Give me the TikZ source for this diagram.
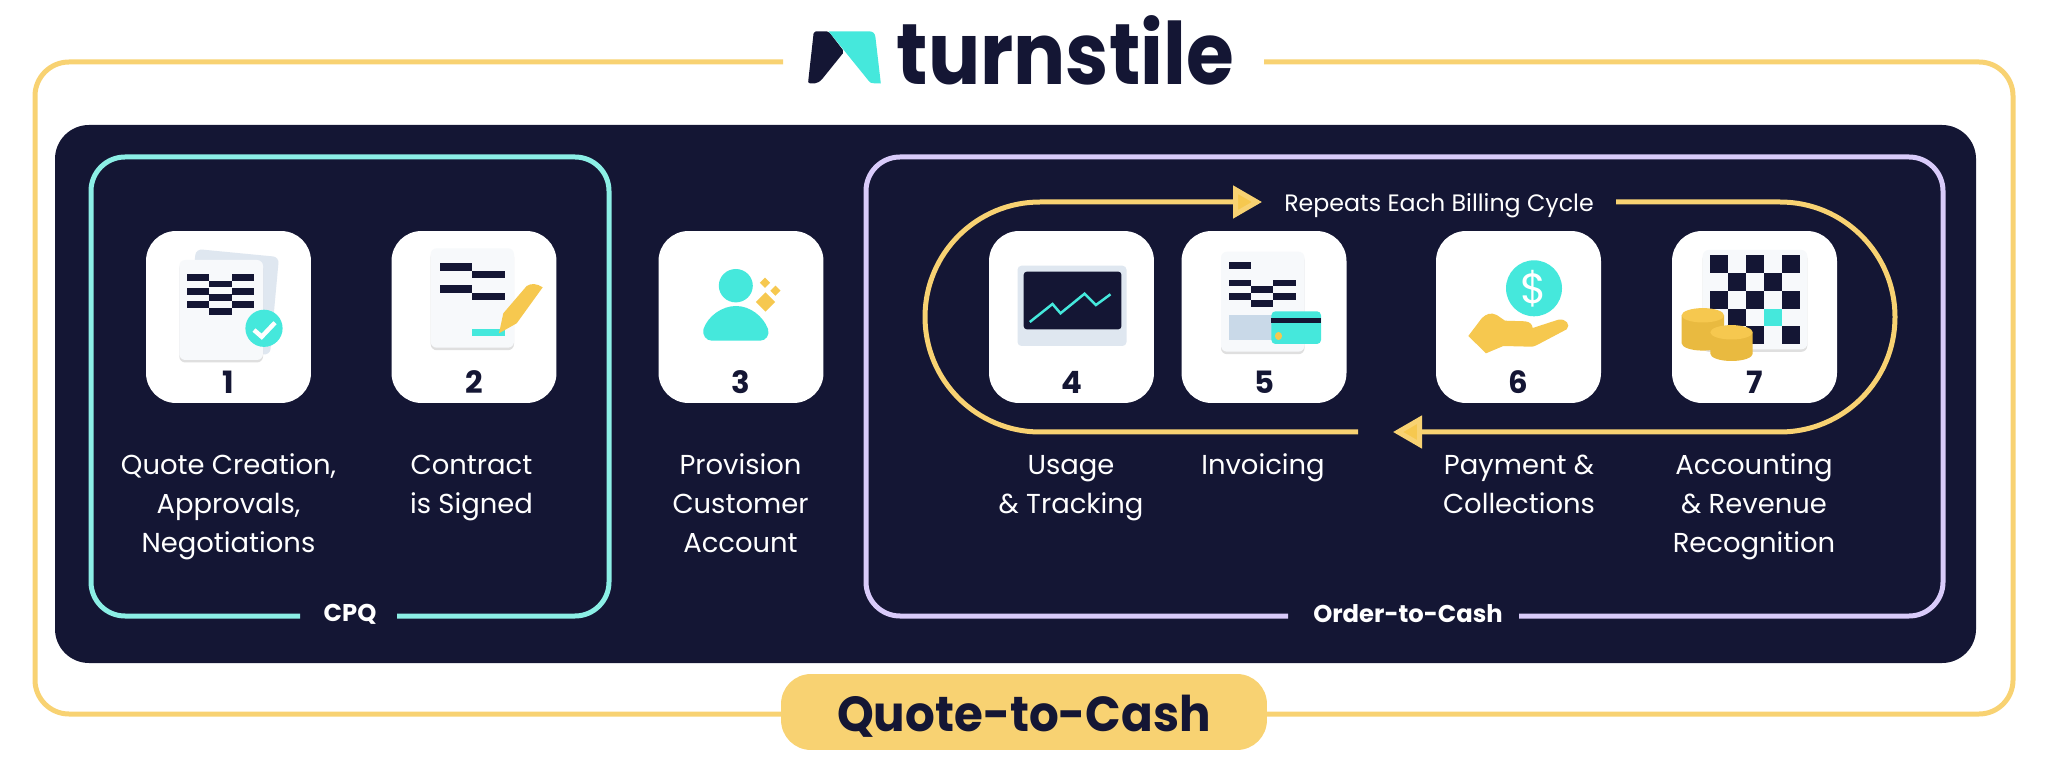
\documentclass[tikz,border=0pt]{standalone}
\usepackage{graphicx}
\usepackage{fontspec}
\setmainfont{Poppins}
\usetikzlibrary{arrows.meta,shadows}
\definecolor{navy}{HTML}{141634}
\definecolor{sand}{HTML}{F8D272}
\definecolor{gold}{HTML}{F6C84F}
\definecolor{golddark}{HTML}{E9BA40}
\definecolor{aqua}{HTML}{45E8DC}
\definecolor{aqualine}{HTML}{8CEFE6}
\definecolor{lilac}{HTML}{D9CBFA}
\definecolor{sheet}{HTML}{F7F9FB}
\definecolor{backsheet}{HTML}{DFE7F0}
\definecolor{paleblue}{HTML}{C9D9E8}
\newcommand{\toprow}{\rule{0pt}{0.5cm}}
\tikzset{
  tile/.style={fill=white, rounded corners=0.6cm, minimum width=3.3cm, minimum height=3.44cm, inner sep=0pt},
  tilenum/.style={text=navy, font=\fontsize{17.5}{20}\selectfont\bfseries, inner sep=0pt},
  steplabel/.style={text=white, font=\fontsize{15.6}{22.2}\selectfont, align=center, anchor=north, inner sep=0pt},
  framelabel/.style={text=white, font=\fontsize{13.8}{15}\selectfont\bfseries, inner sep=0pt},
  frameline/.style={line width=0.1cm, rounded corners=0.68cm},
  loopline/.style={draw=sand, line width=0.1cm},
  paper/.style={fill=sheet, rounded corners=0.12cm, drop shadow={opacity=0.25, shadow xshift=0cm, shadow yshift=-0.05cm}},
  looptip/.style={-{Triangle[length=0.58cm, width=0.64cm, fill=gold]}}
}
\begin{document}
\begin{tikzpicture}[x=0.02cm, y=-0.02cm]
  \useasboundingbox (0,0) rectangle (2048,766);

  % Outer frame and title
  \coordinate (titleL) at (783,62);
  \coordinate (titleR) at (1264,62);
  \draw[sand, frameline] (titleR) -- (2013,62) -- (2013,714) -- (35,714) -- (35,62) -- (titleL);
  \fill[navy, rounded corners=0.04cm] (813.8,31.3) -- (828.6,31.3) -- (844.2,51.7) -- (821.4,80) -- (817,83.3) -- (808,83.3) -- cycle;
  \fill[aqua] (828.6,31.3) -- (869,31.3) .. controls (873,31.3) and (875,33.5) .. (875.4,37) -- (880.8,83.3) -- (874,83.3) .. controls (871,83.3) and (870,82.5) .. (868.8,81) -- cycle;
  \node[text=navy, font=\fontsize{49}{55}\selectfont\bfseries, xscale=0.9, inner sep=0pt] (logoText) at (1065.5,50) {turnstile};

  % Dark panel
  \fill[navy, rounded corners=0.68cm] (55,125) rectangle (1976,663);

  % CPQ frame
  \coordinate (cpqL) at (300,616);
  \coordinate (cpqR) at (397,616);
  \draw[aqualine, frameline] (cpqL) -- (91,616) -- (91,157) -- (609,157) -- (609,616) -- (cpqR);
  \node[framelabel] (cpqLabel) at (350,614) {CPQ};

  % Order-to-Cash frame
  \coordinate (otcL) at (1288,616);
  \coordinate (otcR) at (1519,616);
  \draw[lilac, frameline] (otcL) -- (866,616) -- (866,157) -- (1943,157) -- (1943,616) -- (otcR);
  \node[framelabel] (otcLabel) at (1408,614) {Order-to-Cash};

  % Billing loop
  \coordinate (topTip) at (1262,202);
  \coordinate (topStart) at (1616,202);
  \coordinate (lowTip) at (1393,432);
  \coordinate (lowStart) at (1358,432);
  \draw[loopline, looptip] (lowStart) -- (1040,432) arc[start angle=90, end angle=270, radius=115] -- (topTip);
  \draw[loopline, looptip] (topStart) -- (1780,202) arc[start angle=-90, end angle=90, radius=115] -- (lowTip);
  \node[text=white, font=\fontsize{13.5}{16}\selectfont, inner sep=0pt] (loopLabel) at (1439,206) {Repeats Each Billing Cycle};

  % Tiles with their numbers
  \foreach \tname/\tx/\tnum in {tileA/228.5/1, tileB/474/2, tileC/741/3, tileD/1071.5/4, tileE/1264/5, tileF/1518.5/6, tileG/1754.5/7} {
    \node[tile] (\tname) at (\tx,317) {};
    \node[tilenum] (\tname num) at (\tx,382) {\tnum};
  }

  % Step labels
  \node[steplabel] (labelA) at (228.5,449) {\toprow Quote Creation,\\Approvals,\\Negotiations};
  \node[steplabel] (labelB) at (471.5,449) {\toprow Contract\\is Signed};
  \node[steplabel] (labelC) at (740.5,449) {\toprow Provision\\Customer\\Account};
  \node[steplabel] (labelD) at (1071,449) {\toprow Usage\\\& Tracking};
  \node[steplabel] (labelE) at (1263,449) {\toprow Invoicing};
  \node[steplabel] (labelF) at (1519,449) {\toprow Payment \&\\Collections};
  \node[steplabel] (labelG) at (1754,449) {\toprow Accounting\\\& Revenue\\Recognition};

  % Icon 1: quote sheets
  \fill[backsheet, rounded corners=0.12cm] (196,249) -- (279,257) -- (270,355) -- (185,347) -- cycle;
  \fill[paper] (179.3,260) rectangle (263,360);
  \foreach \bx in {187,231.7}
    \foreach \by in {273.7,287.7,301.3}
      \fill[navy] (\bx,\by) rectangle +(22.3,7);
  \foreach \by in {280.7,294.3,308}
    \fill[navy] (209.3,\by) rectangle +(22.4,6.8);
  \fill[aqua] (264,328.3) circle (18.6);
  \draw[white, line width=0.09cm] (254,330) -- (261.7,336.7) -- (275,322.7);

  % Icon 2: signed contract
  \fill[paper] (430.7,248.3) rectangle (514,347.7);
  \foreach \bx/\by in {440/263.3, 472.3/271, 440/285.3, 472.3/293}
    \fill[navy] (\bx,\by) rectangle +(32.4,7.5);
  \fill[aqua] (472.3,329) rectangle (504.7,336);
  \fill[gold] (499,333.3) -- (503.3,313.3) -- (526.7,286) .. controls (531,283) and (537,283.5) .. (542.7,287.3) -- (516.7,323.3) -- cycle;

  % Icon 3: customer account
  \fill[aqua] (735.8,285.7) ellipse (17 and 16.7);
  \fill[aqua] (712,340.7) -- (760,340.7) .. controls (766,340.7) and (770,335) .. (768,329) .. controls (763,316) and (750,306) .. (736,306) .. controls (722,306) and (708,316) .. (703.5,329) .. controls (702,335) and (706,340.7) .. (712,340.7) -- cycle;
  \foreach \dx/\dy/\drad in {765.5/302/9.6, 765/282.7/5.1, 775.4/290.7/5.1}
    \fill[gold] (\dx-\drad,\dy) -- (\dx,\dy-\drad) -- (\dx+\drad,\dy) -- (\dx,\dy+\drad) -- cycle;

  % Icon 4: usage screen
  \fill[backsheet, rounded corners=0.08cm] (1017.5,265.7) rectangle (1126.5,346);
  \fill[navy, rounded corners=0.06cm] (1023.7,271.7) rectangle (1121.4,329.3);
  \draw[aqua, line width=0.05cm] (1029.8,322) -- (1052.5,304) -- (1060.5,313.3) -- (1084.6,293.7) -- (1095.9,305) -- (1110.5,294.3);

  % Icon 5: invoice and card
  \fill[paper] (1221,251.7) rectangle (1304.5,351.7);
  \fill[navy] (1228.5,262.3) rectangle +(22.6,6.7);
  \foreach \bx in {1228.5,1273.3}
    \foreach \by in {279.7,293.3}
      \fill[navy] (\bx,\by) rectangle +(22.6,6.7);
  \foreach \by in {286.3,300}
    \fill[navy] (1251.1,\by) rectangle +(22.2,7);
  \fill[paleblue] (1228.5,315.3) rectangle (1272.4,340);
  \fill[aqua, rounded corners=0.08cm] (1271.4,311.3) rectangle (1321,344);
  \fill[navy] (1271.4,318) rectangle (1321,323);
  \fill[gold] (1278.5,336) ellipse (3.6 and 4);

  % Icon 6: payment
  \fill[aqua] (1534,288.3) circle (28);
  \node[text=white, font=\fontsize{24}{28}\selectfont, inner sep=0pt] (dollarSign) at (1534,288.3) {\$};
  \fill[gold] (1468.3,336) -- (1481.7,318.3) .. controls (1486,314) and (1491,312) .. (1496.7,315) -- (1505,320.7) -- (1525,321.3) .. controls (1530,322) and (1532,324) .. (1532.7,328) -- (1558,319.8) .. controls (1566,318) and (1571,325) .. (1566.7,329.3) -- (1538.3,344.3) .. controls (1535,346) and (1533,346.7) .. (1531.7,346.7) -- (1503.3,346) -- (1486,353.3) -- cycle;

  % Icon 7: ledger and coins
  \fill[paper] (1702.7,250) rectangle (1807.3,349.3);
  \foreach \cx/\cy in {0/0,2/0,4/0,1/1,3/1,0/2,2/2,4/2,1/3,0/4,2/4,4/4}
    \fill[navy] ({1710.3+17.95*\cx},{255+17.85*\cy}) rectangle +(17.95,17.85);
  \fill[aqua] ({1710.3+17.95*3},{255+17.85*3}) rectangle +(17.95,17.85);
  \foreach \cx/\ctop/\cside in {1702.85/315.3/28, 1731.5/332.3/21.4} {
    \fill[golddark] (\cx-21.2,\ctop) -- (\cx-21.2,\ctop+\cside) arc[start angle=180, end angle=0, x radius=21.2, y radius=7.3] -- (\cx+21.2,\ctop) -- cycle;
    \fill[gold] (\cx,\ctop) ellipse (21.2 and 7.2);
  }

  % Quote-to-Cash pill
  \node[fill=sand, rounded corners=0.6cm, minimum width=9.72cm, minimum height=1.52cm, inner sep=0pt] (pill) at (1024,712) {};
  \node[text=navy, font=\fontsize{28}{34}\selectfont\bfseries, inner sep=0pt] (pillText) at (1024,716) {\scalebox{0.95}[1]{Quote-to-Cash}};
\end{tikzpicture}
\end{document}
